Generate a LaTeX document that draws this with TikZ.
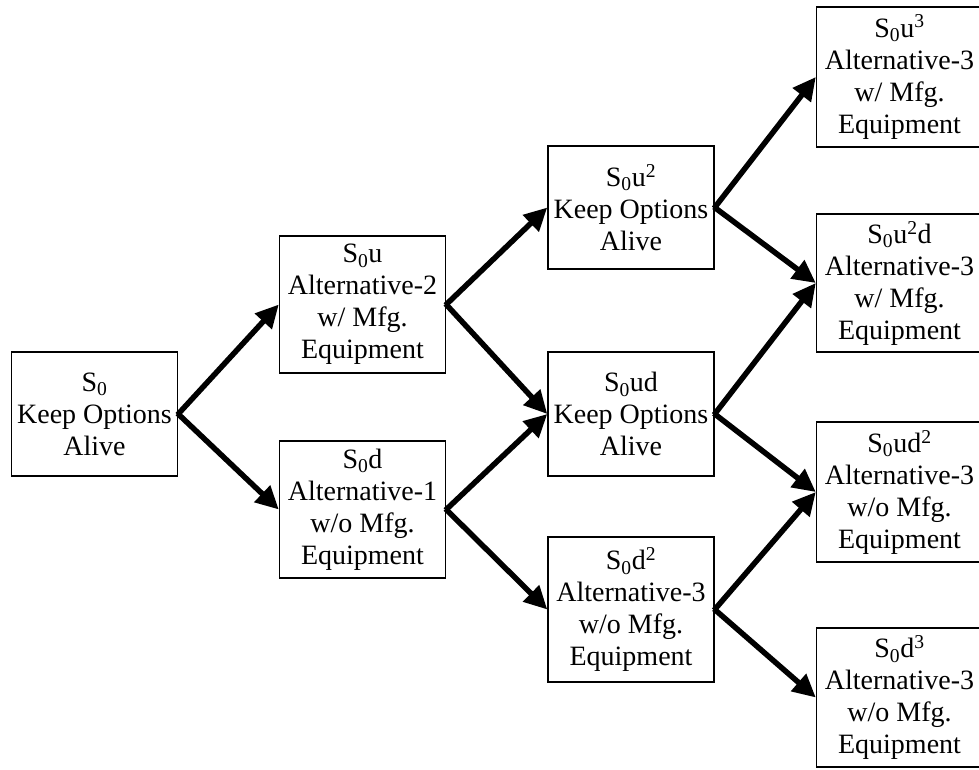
\documentclass[tikz,border=0pt]{standalone}
\usepackage{fontspec}
\setmainfont{Liberation Serif}
\usetikzlibrary{arrows.meta}
\begin{document}
\begin{tikzpicture}[x=1pt,y=-1pt,
  box/.style={draw, line width=1.4pt, align=center, inner sep=0pt,
    minimum width=166pt, font=\fontsize{28}{32}\selectfont},
  arr/.style={line width=5.5pt, -{Triangle[length=23pt,width=22pt]}, shorten <=-1pt}]
\useasboundingbox (0,0) rectangle (979,769);
\clip (0,0) rectangle (979,769);
\node[box, minimum height=124pt] (s0) at (94.5,414) {S\textsubscript{0}\\Keep Options\\Alive};
\node[box, minimum height=137pt] (su) at (362.5,304.5) {S\textsubscript{0}u\\Alternative-2\\w/ Mfg.\\Equipment};
\node[box, minimum height=137pt] (sd) at (362.5,509.5) {S\textsubscript{0}d\\Alternative-1\\w/o Mfg.\\Equipment};
\node[box, minimum height=123pt] (suu) at (631,207.5) {S\textsubscript{0}u\textsuperscript{2}\\Keep Options\\Alive};
\node[box, minimum height=124pt] (sud) at (631,414) {S\textsubscript{0}ud\\Keep Options\\Alive};
\node[box, minimum height=145pt] (sdd) at (631,609.5) {S\textsubscript{0}d\textsuperscript{2}\\Alternative-3\\w/o Mfg.\\Equipment};
\node[box, minimum height=140pt] (suuu) at (899.5,77) {S\textsubscript{0}u\textsuperscript{3}\\Alternative-3\\w/ Mfg.\\Equipment};
\node[box, minimum height=138pt] (suud) at (899.5,283) {S\textsubscript{0}u\textsuperscript{2}d\\Alternative-3\\w/ Mfg.\\Equipment};
\node[box, minimum height=140pt] (sudd) at (899.5,492) {S\textsubscript{0}ud\textsuperscript{2}\\Alternative-3\\w/o Mfg.\\Equipment};
\node[box, minimum height=139pt] (sddd) at (899.5,697.5) {S\textsubscript{0}d\textsuperscript{3}\\Alternative-3\\w/o Mfg.\\Equipment};
\draw[arr] (s0.east) -- (su.west);
\draw[arr] (s0.east) -- (sd.west);
\draw[arr] (su.east) -- (suu.west);
\draw[arr] (su.east) -- (sud.west);
\draw[arr] (sd.east) -- (sud.west);
\draw[arr] (sd.east) -- (sdd.west);
\draw[arr] (suu.east) -- (suuu.west);
\draw[arr] (suu.east) -- (suud.west);
\draw[arr] (sud.east) -- (suud.west);
\draw[arr] (sud.east) -- (sudd.west);
\draw[arr] (sdd.east) -- (sudd.west);
\draw[arr] (sdd.east) -- (sddd.west);
\end{tikzpicture}
\end{document}
